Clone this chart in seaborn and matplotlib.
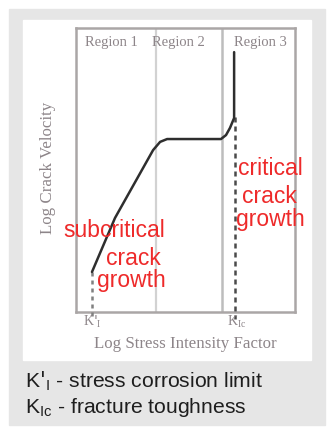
import matplotlib
matplotlib.use("Agg")
import matplotlib.pyplot as plt
import seaborn as sns
import pandas as pd
from matplotlib.patches import Rectangle

# crack growth curve (log stress intensity vs log crack velocity, arbitrary units)
log_k = [0.73, 1.78, 3.52, 3.84, 4.16, 6.62, 6.85, 7.03, 7.22, 7.22]
log_v = [1.41, 3.31, 5.70, 5.99, 6.09, 6.09, 6.23, 6.48, 6.83, 9.15]
region_bounds = [3.65, 6.67]
region_names = ["Region 1", "Region 2", "Region 3"]
region_centers = [1.6, 4.67, 8.4]
k_threshold = 0.73
k_ic = 7.24
subcrit_lines = ["subcritical", "crack", "growth"]
crit_lines = ["critical", "crack", "growth"]
legend_lines = [r"K$'_{\mathregular{I}}$ - stress corrosion limit",
                r"K$_{\mathregular{Ic}}$ - fracture toughness"]

sns.set_style("white")

W, H = 328, 433
fig = plt.figure(figsize=(W / 100, H / 100), dpi=100)


def fx(px):
    return px / W


def fy(py):
    return 1 - py / H


# outer grey card and inner white panel
fig.patches.append(Rectangle((fx(9), fy(425)), fx(325) - fx(9), fy(9) - fy(425),
                             transform=fig.transFigure, color="#e6e6e6", zorder=-2))
fig.patches.append(Rectangle((fx(23), fy(360)), fx(311) - fx(23), fy(20) - fy(360),
                             transform=fig.transFigure, color="white", zorder=-1))

ax = fig.add_axes([fx(76), fy(312), fx(295) - fx(76), fy(28) - fy(312)])
ax.set_zorder(1)
ax.set_facecolor("none")
ax.set_xlim(0, 10)
ax.set_ylim(0, 10)

df = pd.DataFrame({"log_k": log_k, "log_v": log_v})
sns.lineplot(data=df, x="log_k", y="log_v", sort=False, estimator=None,
             errorbar=None, ax=ax, color="#2e2e2e", linewidth=1.8, zorder=4)

# region dividers
ax.axvline(region_bounds[0], color="#d2d2d2", linewidth=1.6, zorder=1)
ax.axvline(region_bounds[1], color="#bdbdbd", linewidth=1.8, zorder=1)

# threshold and toughness markers
ax.plot([k_threshold, k_threshold], [log_v[0], -0.25], color="#808080",
        linewidth=1.8, linestyle=(0, (1.6, 1.6)), clip_on=False, zorder=3)
ax.plot([k_ic, k_ic], [6.85, -0.25], color="#4a4a4a",
        linewidth=1.8, linestyle=(0, (2.0, 1.6)), clip_on=False, zorder=3)

for s in ax.spines.values():
    s.set_color("#aaa6a6")
    s.set_linewidth(1.8)
ax.set_xticks([])
ax.set_yticks([])
ax.set_xlabel("")
ax.set_ylabel("")

serif = ["Liberation Serif", "DejaVu Serif"]
grey = "#8d8589"
for name, cx in zip(region_names, region_centers):
    ax.text(cx, 9.5, name, ha="center", va="center", fontsize=10.5,
            family=serif, color=grey)

fig.text(fx(92), fy(322), r"K$'_{\mathregular{I}}$", ha="center", va="center",
         fontsize=10, family=serif, color=grey)
fig.text(fx(237), fy(322), r"K$_{\mathregular{Ic}}$", ha="center", va="center",
         fontsize=10, family=serif, color=grey)
fig.text(fx(185), fy(344), "Log Stress Intensity Factor", ha="center", va="center",
         fontsize=12.2, family=serif, color=grey)
fig.text(fx(48), fy(168), "Log Crack Velocity", ha="center", va="center",
         rotation=90, fontsize=12.2, family=serif, color=grey)

red = "#ee2a2a"
sans = ["Liberation Sans", "DejaVu Sans"]
for txt, cx, by in zip(subcrit_lines, [114.5, 133, 131], [237, 265, 287]):
    fig.text(fx(cx), fy(by), txt, ha="center", va="baseline", fontsize=16.5,
             family=sans, color=red, zorder=5)
for txt, cx, by in zip(crit_lines, [270, 269, 270], [175, 203, 226]):
    fig.text(fx(cx), fy(by), txt, ha="center", va="baseline", fontsize=16.5,
             family=sans, color=red, zorder=5)

for txt, by in zip(legend_lines, [387, 413]):
    fig.text(fx(25), fy(by), txt, ha="left", va="baseline", fontsize=15.2,
             family=sans, color="#1e1e1e")

fig.savefig("out.png", dpi=100)
